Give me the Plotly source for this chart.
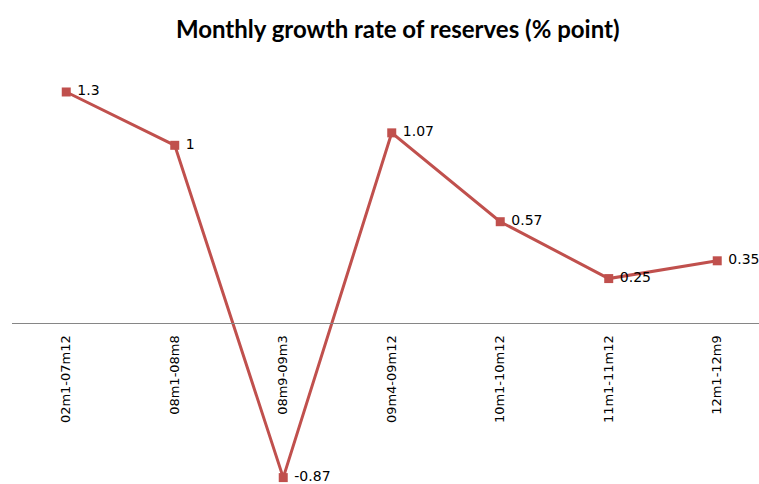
import plotly.graph_objects as go

categories = ["02m1-07m12", "08m1-08m8", "08m9-09m3", "09m4-09m12", "10m1-10m12", "11m1-11m12", "12m1-12m9"]
values = [1.3, 1.0, -0.87, 1.07, 0.57, 0.25, 0.35]
labels = ["1.3", "1", "-0.87", "1.07", "0.57", "0.25", "0.35"]

W, H = 759, 484
ymin, ymax = -0.906, 1.480

fig = go.Figure()
fig.add_trace(go.Scatter(
    x=categories, y=values, mode="lines+markers+text",
    line=dict(color="#C0504D", width=3),
    marker=dict(symbol="square", size=9, color="#C0504D"),
    text=["\u00a0" + t for t in labels], textposition="middle right",
    textfont=dict(family="DejaVu Sans", size=14, color="#000000"),
    cliponaxis=False, showlegend=False, hoverinfo="skip",
))

fig.update_layout(
    width=W, height=H,
    margin=dict(l=12, r=0, t=60, b=0, autoexpand=False),
    paper_bgcolor="white", plot_bgcolor="white",
    title=dict(text="<b>Monthly growth rate of reserves (% point)</b>",
               x=0.524, xanchor="center", y=0.938, yanchor="middle",
               font=dict(family="Lato", size=24, color="#000000")),
    xaxis=dict(type="category", range=[-0.5, 6.385],
               anchor="free", position=(0 - ymin) / (ymax - ymin),
               automargin=False,
               showline=True, linecolor="#868686", linewidth=1,
               showgrid=False, zeroline=False,
               ticks="outside", ticklen=6, tickcolor="rgba(0,0,0,0)",
               tickangle=-90,
               tickfont=dict(family="DejaVu Sans", size=13, color="#000000")),
    yaxis=dict(range=[ymin, ymax], visible=False, showgrid=False, zeroline=False,
               automargin=False),
)

fig.write_html("out.html", config={"displayModeBar": False},
               post_script="document.body.style.margin='0';")
